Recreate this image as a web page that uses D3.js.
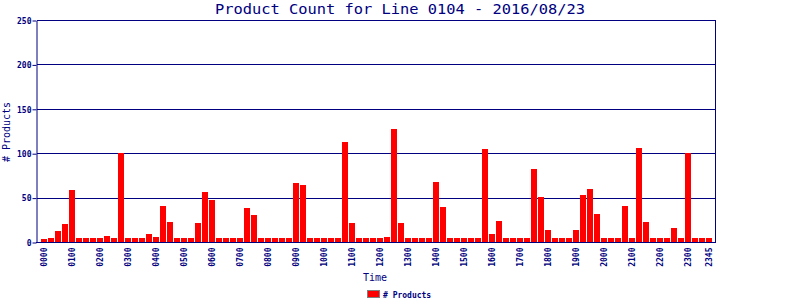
<!DOCTYPE html><meta charset="utf-8"><style>
    body { margin: 0; background: #fff; }
    text { font-family: "DejaVu Sans Mono", monospace; fill: #000080; }
    .tick text { font-size: 8px; font-weight: bold; }
</style><svg width="800" height="300"></svg><script src="https://cdn.jsdelivr.net/npm/d3@7"></script><script>

    var width = 800, height = 300;

    var margin = ({top: 20, right: 85, bottom: 58, left: 37});

    // 15 minute slots
    var slots = [
        "0000","0015","0030","0045","0100","0115","0130","0145",
        "0200","0215","0230","0245","0300","0315","0330","0345",
        "0400","0415","0430","0445","0500","0515","0530","0545",
        "0600","0615","0630","0645","0700","0715","0730","0745",
        "0800","0815","0830","0845","0900","0915","0930","0945",
        "1000","1015","1030","1045","1100","1115","1130","1145",
        "1200","1215","1230","1245","1300","1315","1330","1345",
        "1400","1415","1430","1445","1500","1515","1530","1545",
        "1600","1615","1630","1645","1700","1715","1730","1745",
        "1800","1815","1830","1845","1900","1915","1930","1945",
        "2000","2015","2030","2045","2100","2115","2130","2145",
        "2200","2215","2230","2245","2300","2315","2330","2345"];

    var counts = [
        3, 4, 12, 20, 59, 4, 4, 4,
        5, 7, 4, 100, 4, 4, 4, 9,
        6, 41, 22, 4, 4, 4, 21, 56,
        47, 4, 4, 4, 4, 38, 30, 4,
        4, 4, 4, 4, 66, 64, 4, 4,
        4, 4, 5, 113, 21, 4, 4, 4,
        4, 6, 127, 21, 4, 4, 4, 4,
        68, 39, 4, 4, 4, 4, 4, 105,
        9, 24, 4, 4, 4, 5, 82, 51,
        14, 4, 4, 4, 14, 53, 60, 31,
        4, 4, 4, 41, 5, 106, 22, 4,
        4, 5, 16, 5, 100, 4, 4, 4];

    var tickLabels = ["0000","0100","0200","0300","0400","0500","0600","0700",
        "0800","0900","1000","1100","1200","1300","1400","1500","1600","1700",
        "1800","1900","2000","2100","2200","2300","2345"];

    var yTicks = [0, 50, 100, 150, 200, 250];

    var x = d3.scaleBand()
        .domain(slots)
        .range([41, 713])
        .padding(0);

    var y = d3.scaleLinear()
        .domain([0, 250])
        .range([height - margin.bottom, margin.top]);

    var px = v => Math.round(y(v)) + 0.5;

    const svg = d3.select("svg")
        .attr("viewBox", [0, 0, width, height]);

    // title
    svg.append("text")
        .attr("x", 400)
        .attr("y", 14)
        .attr("text-anchor", "middle")
        .attr("textLength", 370)
        .attr("lengthAdjust", "spacingAndGlyphs")
        .style("font-size", "14px")
        .text("Product Count for Line 0104 - 2016/08/23");

    // grid lines
    svg.append("g")
        .selectAll("line")
        .data(yTicks.slice(1))
        .join("line")
        .attr("x1", margin.left)
        .attr("x2", width - margin.right + 1)
        .attr("y1", d => px(d))
        .attr("y2", d => px(d))
        .attr("stroke", "#000080")
        .attr("shape-rendering", "crispEdges");

    // bars
    svg.append("g")
        .attr("fill", "#ff0000")
        .selectAll("rect")
        .data(counts)
        .join("rect")
        .attr("x", (d, i) => x(slots[i]))
        .attr("y", d => Math.round(y(d)))
        .attr("width", x.bandwidth() - 1)
        .attr("height", d => Math.round(y(0)) - Math.round(y(d)))
        .attr("shape-rendering", "crispEdges");

    // right border
    svg.append("line")
        .attr("x1", width - margin.right + 0.5)
        .attr("x2", width - margin.right + 0.5)
        .attr("y1", px(250))
        .attr("y2", px(0))
        .attr("stroke", "#000080")
        .attr("shape-rendering", "crispEdges");

    // y axis
    svg.append("g")
        .attr("transform", `translate(${margin.left - 0.5},0.5)`)
        .call(d3.axisLeft(y).tickValues(yTicks).tickSize(4).tickPadding(1).tickSizeOuter(0))
        .call(g => g.selectAll("path, line").attr("stroke", "#000080"))
        .call(g => g.selectAll("text").attr("dy", "0.35em"));

    // x axis
    svg.append("g")
        .attr("transform", `translate(0,${px(0)})`)
        .call(d3.axisBottom(x).tickValues(tickLabels).tickSize(0).tickSizeOuter(0))
        .call(g => g.select(".domain").remove())
        .call(g => g.selectAll("text")
            .attr("transform", "rotate(-90)")
            .attr("text-anchor", "end")
            .attr("x", -5)
            .attr("y", 0)
            .attr("dy", "0.32em"));

    svg.append("line")
        .attr("x1", margin.left - 1)
        .attr("x2", width - margin.right + 1)
        .attr("y1", px(0))
        .attr("y2", px(0))
        .attr("stroke", "#000080")
        .attr("shape-rendering", "crispEdges");

    // axis titles
    svg.append("text")
        .attr("transform", "translate(10,132) rotate(-90)")
        .attr("text-anchor", "middle")
        .style("font-size", "10px")
        .text("# Products");

    svg.append("text")
        .attr("x", 375)
        .attr("y", 281)
        .attr("text-anchor", "middle")
        .style("font-size", "10px")
        .text("Time");

    // legend
    var legend = svg.append("g")
        .attr("transform", "translate(367,290)");

    legend.append("rect")
        .attr("x", 0.5)
        .attr("y", 0.5)
        .attr("width", 12)
        .attr("height", 7)
        .attr("fill", "#ff0000")
        .attr("stroke", "#808080");

    legend.append("text")
        .attr("x", 16)
        .attr("y", 7.5)
        .style("font-size", "8px")
        .style("font-weight", "bold")
        .text("# Products");

</script>
